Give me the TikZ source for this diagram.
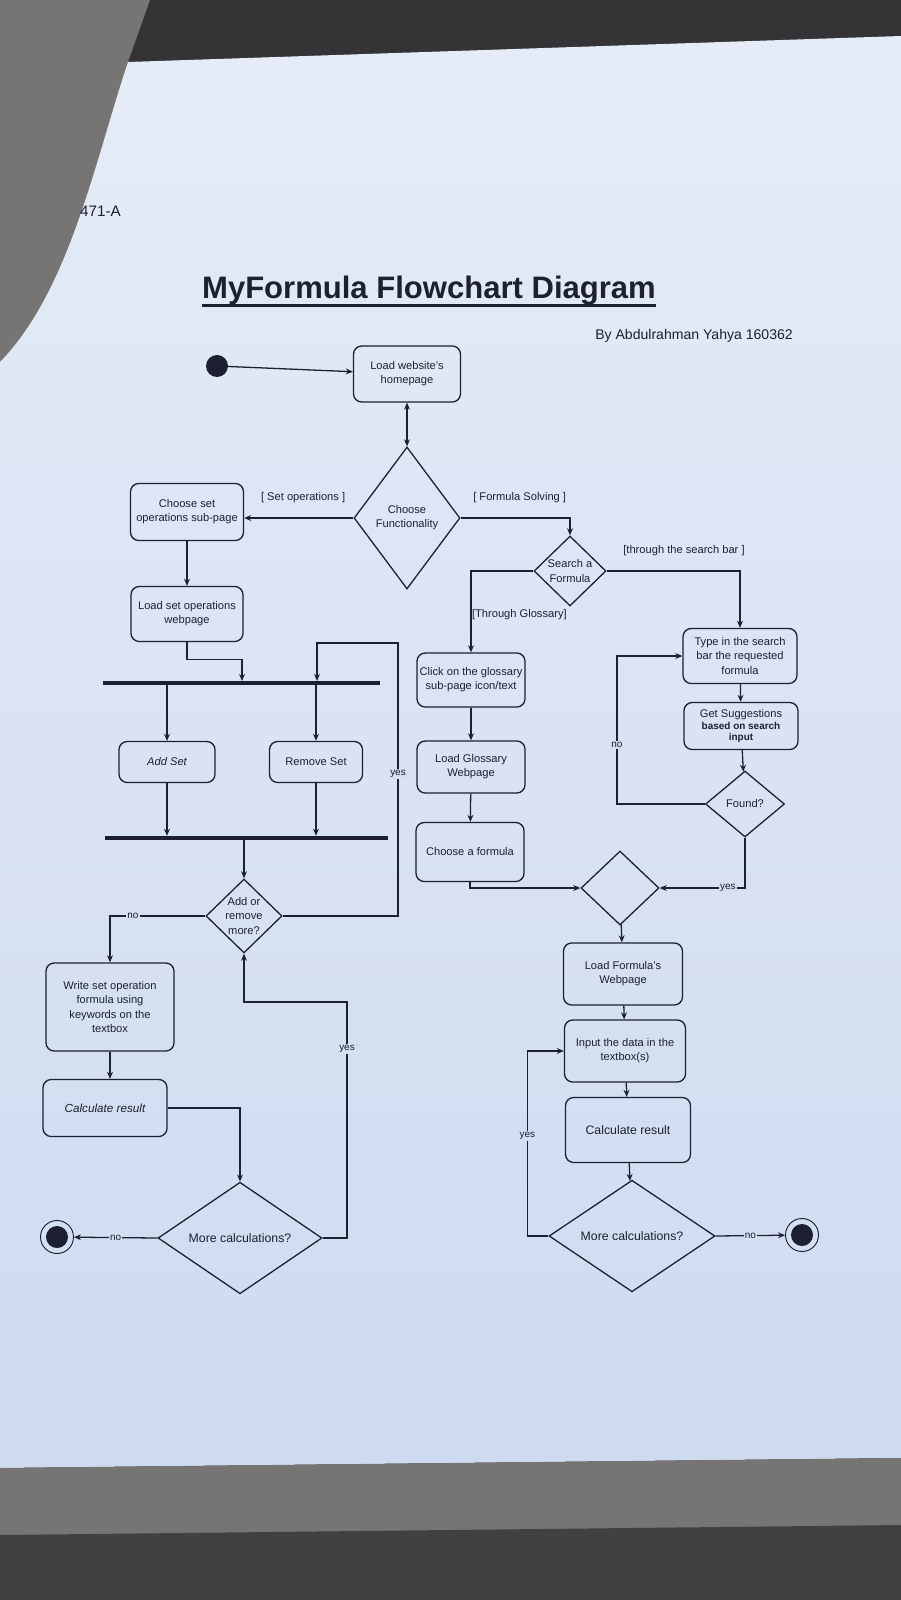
\documentclass[tikz,border=0pt]{standalone}
\usepackage{fontspec}
\setmainfont{Liberation Sans}
\usepackage{xcolor}
\usetikzlibrary{
    arrows.meta,
    shapes.geometric,
    calc
}
\newdimen\pxu \pxu=0.03cm
\definecolor{ink}{RGB}{28,32,48}
\definecolor{paper}{RGB}{205,218,240}
\definecolor{paperhi}{RGB}{230,236,247}
\definecolor{lblbg}{RGB}{212,223,242}
\definecolor{seat}{RGB}{118,117,115}
\definecolor{seatdark}{RGB}{52,52,54}

\begin{document}
\begin{tikzpicture}[x=0.03cm, y=-0.03cm, >={Stealth[length=6pt, width=5pt]},
    every node/.append style={text=ink, font=\fontsize{9.5}{12}\selectfont},
    act/.style={draw=ink, rounded corners=7pt, line width=1.1pt, align=center, inner sep=2pt},
    dec/.style={draw=ink, diamond, line width=1.1pt, align=center, inner sep=0pt, aspect=1},
    bar/.style={fill=ink, inner sep=0pt, minimum height=4\pxu},
    startst/.style={circle, fill=ink, minimum size=22\pxu, inner sep=0pt},
    endst/.style={circle, draw=ink, line width=0.8pt, fill=lblbg, minimum size=33\pxu, inner sep=0pt,
        path picture={\fill[ink] (path picture bounding box.center) circle (11\pxu);}},
    flow/.style={draw=ink, line width=1.1pt, ->},
    lbl/.style={font=\fontsize{8.5}{10}\selectfont, fill=lblbg, inner sep=1pt},
    guard/.style={font=\fontsize{9.5}{11}\selectfont}
]
\useasboundingbox (0,0) rectangle (901,1600);
\fill[seatdark] (0,0) rectangle (901,1600);
\fill[seat] (0,0) -- (150,0) -- (128,62) .. controls (95,160) and (70,290) .. (0,362) -- cycle;
\shade[top color=paperhi, bottom color=paper] (128,62) -- (901,36) -- (901,1458) -- (0,1468) -- (0,362)
    .. controls (70,290) and (95,160) .. (128,62) -- cycle;
\fill[seat] (0,1468) -- (901,1458) -- (901,1600) -- (0,1600) -- cycle;
\fill[seatdark!80!seat] (0,1535) -- (901,1525) -- (901,1600) -- (0,1600) -- cycle;

\node[anchor=base west, inner sep=0pt, font=\fontsize{13}{15}\selectfont] (code) at (80,216) {471-A};
\node[anchor=base, inner sep=0pt, font=\fontsize{26.5}{30}\bfseries\selectfont] (title) at (429,298) {MyFormula Flowchart Diagram};
\draw[ink, line width=2.6pt] ([yshift=-6pt]title.base west) -- ([yshift=-6pt]title.base east);
\node[anchor=base, inner sep=0pt, font=\fontsize{12}{14}\selectfont] (byline) at (694,339) {By Abdulrahman Yahya 160362};

\node[startst] (start) at (217,366) {};
\node[act, minimum width=107\pxu, minimum height=56\pxu] (home) at (407,374) {Load website's\\homepage};
\node[dec, minimum width=106\pxu, minimum height=142\pxu] (func) at (407,518) {Choose\\Functionality};

% set operations side
\node[act, minimum width=113\pxu, minimum height=57\pxu] (chset) at (187,512) {Choose set\\operations sub-page};
\node[act, minimum width=112\pxu, minimum height=55\pxu] (loadset) at (187,614) {Load set operations\\webpage};
\node[bar, minimum width=277\pxu] (fork) at (241,683) {};
\coordinate (fin1) at (242,681);
\coordinate (fin2) at (317,681);
\node[act, minimum width=96\pxu, minimum height=41\pxu] (addset) at (167,762) {\itshape Add Set};
\node[act, minimum width=93\pxu, minimum height=41\pxu] (remset) at (316,762) {Remove Set};
\node[bar, minimum width=283\pxu] (join) at (246,838) {};
\node[dec, minimum width=76\pxu, minimum height=74\pxu] (more) at (244,916) {Add or\\remove\\more?};
\node[act, minimum width=128\pxu, minimum height=88\pxu] (write) at (110,1007) {Write set operation\\formula using\\keywords on the\\textbox};
\node[act, minimum width=124\pxu, minimum height=57\pxu] (calcL) at (105,1108) {\fontsize{10}{12}\itshape Calculate result};
\node[dec, minimum width=164\pxu, minimum height=80\pxu, font=\fontsize{10.5}{12}\selectfont] (moreL) at (240,1238) {More calculations?};
\node[endst] (endL) at (57,1237) {};
\coordinate (yesTop) at (398,643);
\coordinate (yesMid) at (347,1002);

% formula side
\node[dec, minimum width=72\pxu, minimum height=70\pxu] (search) at (570,571) {Search a\\Formula};
\node[act, minimum width=108\pxu, minimum height=54\pxu] (click) at (471,680) {Click on the glossary\\sub-page icon/text};
\node[act, minimum width=108\pxu, minimum height=52\pxu] (glos) at (471,767) {Load Glossary\\Webpage};
\node[act, minimum width=108\pxu, minimum height=59\pxu] (choosef) at (470,852) {Choose a formula};
\node[act, minimum width=114\pxu, minimum height=55\pxu] (type) at (740,656) {Type in the search\\bar the requested\\formula};
\node[act, minimum width=114\pxu, minimum height=47\pxu, font=\fontsize{9.5}{10}\selectfont] (sugg) at (741,726) {Get Suggestions\\{\fontsize{8.5}{9}\bfseries based on search}\\{\fontsize{8.5}{9}\bfseries input}};
\node[dec, minimum width=79\pxu, minimum height=66\pxu] (found) at (745,804) {Found?};
\node[dec, minimum width=78\pxu, minimum height=74\pxu] (merge) at (620,888) {};
\node[act, minimum width=119\pxu, minimum height=62\pxu] (loadf) at (623,974) {Load Formula's\\Webpage};
\node[act, minimum width=121\pxu, minimum height=62\pxu] (input) at (625,1051) {Input the data in the\\textbox(s)};
\node[act, minimum width=125\pxu, minimum height=65\pxu, font=\fontsize{10.5}{12}\selectfont] (calcR) at (628,1130) {Calculate result};
\node[dec, minimum width=166\pxu, minimum height=76\pxu, font=\fontsize{10.5}{12}\selectfont] (moreR) at (632,1236) {More calculations?};
\node[endst] (endR) at (802,1235) {};

\draw[flow] (start) -- (home);
\draw[flow, <->] (home) -- (func);
\draw[flow] (func.west) -- node[guard, above=9pt, pos=0.46]{[ Set operations ]} (func.west -| chset.east);
\draw[flow] (func.east) -| node[guard, above=9pt, pos=0.27]{[ Formula Solving ]} (search.north);

\draw[flow] (chset) -- (loadset);
\draw[flow] (loadset.south) -- ++(0,17) -| (fin1);
\draw[flow] (addset.north |- fork.south) -- (addset.north);
\draw[flow] (remset.north |- fork.south) -- (remset.north);
\draw[flow] (addset.south) -- (addset.south |- join.north);
\draw[flow] (remset.south) -- (remset.south |- join.north);
\draw[flow] (more.north |- join.south) -- (more.north);
\draw[flow] (more.west) -| node[lbl, pos=0.38]{no} (write.north);
\draw[flow] (more.east) -| node[lbl, pos=0.76]{yes} (yesTop) -| (fin2);
\draw[flow] (write.south) -- (write.south |- calcL.north);
\draw[flow] (calcL.east) -| (moreL.north);
\draw[flow] (moreL.east) -| node[lbl, pos=0.9]{yes} (yesMid) -| (more.south);
\draw[flow] (moreL.west) -- node[lbl]{no} (endL);

\draw[flow] (search.east) -| node[guard, above=9pt, pos=0.29]{[through the search bar ]} (type.north);
\draw[flow] (search.west) -| node[guard, pos=0.77, anchor=west, xshift=-3pt]{[Through Glossary]} (click.north);
\draw[flow] (click) -- (glos);
\draw[flow] (glos) -- (choosef);
\draw[flow] (choosef.south) |- (merge.west);
\draw[flow] (type) -- (sugg);
\draw[flow] (sugg) -- (found);
\draw[flow] (found.west) -- ++(-88,0) |- node[lbl, pos=0.2]{no} (type.west);
\draw[flow] (found.south) |- node[lbl, pos=0.6]{yes} (merge.east);
\draw[flow] (merge) -- (loadf);
\draw[flow] (loadf) -- (input);
\draw[flow] (input) -- (calcR);
\draw[flow] (calcR) -- (moreR);
\draw[flow] (moreR.west) -- ++(-21,0) |- node[lbl, pos=0.27]{yes} (input.west);
\draw[flow] (moreR.east) -- node[lbl]{no} (endR);
\end{tikzpicture}
\end{document}
